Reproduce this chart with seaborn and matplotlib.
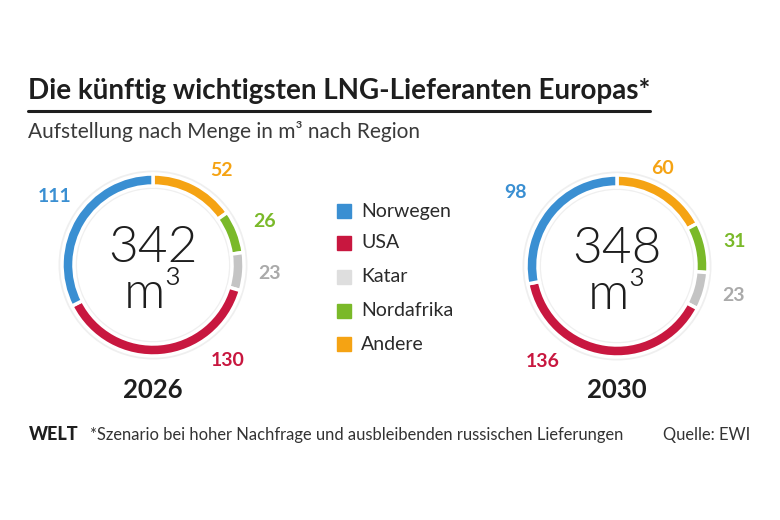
import matplotlib
matplotlib.use("Agg")
import matplotlib.pyplot as plt
from matplotlib.lines import Line2D
from matplotlib.patches import Rectangle
import numpy as np
import seaborn as sns

# data
regions = ["Norwegen", "USA", "Katar", "Nordafrika", "Andere"]
years = ["2026", "2030"]
values_2026 = [111, 130, 23, 26, 52]
values_2030 = [98, 136, 23, 31, 60]
totals = [342, 348]

# style
colors = ["#3a8fd2", "#c8173f", "#c4c4c4", "#7ab929", "#f5a313"]
label_colors = ["#3a8fd2", "#c8173f", "#aaaaaa", "#7ab929", "#f5a313"]
legend_colors = ["#3a8fd2", "#c8173f", "#dedede", "#7ab929", "#f5a313"]
# label anchors: clock degrees from 12 o'clock and radius (ring radius ~0.9)
label_angles = [[305, 142, 94, 69, 36], [306, 218, 104, 78, 25]]
label_radius = [[1.2, 1.21, 1.17, 1.2, 1.17], [1.25, 1.21, 1.2, 1.2, 1.08]]
centers = [(153, 265), (617, 266)]

W, H = 780, 520
sns.set_theme(style="white")
plt.rcParams['font.family'] = ['Lato', 'DejaVu Sans']
dark = "#1e1e1e"

fig = plt.figure(figsize=(W / 100, H / 100), dpi=100)
fig.patch.set_facecolor("white")


def fx(x):
    return x / W


def fy(y):
    return 1 - y / H


# header
fig.text(fx(28), fy(99), "Die künftig wichtigsten LNG-Lieferanten Europas*",
         fontsize=20, fontweight="bold", color=dark, ha="left", va="baseline")
fig.add_artist(Line2D([fx(28), fx(650)], [fy(111), fy(111)], color=dark, lw=2.2))
fig.text(fx(28), fy(131), "Aufstellung nach Menge in m³ nach Region",
         fontsize=15, color="#3a3a3a", ha="left", va="center")

all_values = [values_2026, values_2030]
for k, (vals, total, year) in enumerate(zip(all_values, totals, years)):
    cx, cy = centers[k]
    half = 140
    ax = fig.add_axes([fx(cx - half), fy(cy + half), 2 * half / W, 2 * half / H])
    ax.pie([1], radius=0.945, colors=["#efefef"], startangle=90,
           wedgeprops=dict(width=0.185, linewidth=0))
    ax.pie(vals[::-1], radius=0.91, colors=colors[::-1], startangle=90,
           counterclock=False, wedgeprops=dict(width=0.12, edgecolor="white", linewidth=2.5))
    ax.set_xlim(-1.4, 1.4)
    ax.set_ylim(-1.4, 1.4)
    ax.set_aspect("equal")
    ax.axis("off")
    for v, ang, r, c in zip(vals, label_angles[k], label_radius[k], label_colors):
        a = np.deg2rad(ang)
        ax.text(r * np.sin(a), r * np.cos(a), str(v), color=c, fontsize=14,
                fontweight="bold", ha="center", va="center", clip_on=False)
    ax.text(0, -0.06, f"{total}\nm³", fontsize=37, fontweight=300, color=dark,
            ha="center", va="center", multialignment="center", linespacing=1.0)
    fig.text(fx(cx), fy(390), year, fontsize=18.5, fontweight="bold", color=dark,
             ha="center", va="center")

# legend
legend_y = [211, 243, 277, 311, 344]
for name, c, y in zip(regions, legend_colors, legend_y):
    fig.add_artist(Rectangle((fx(337), fy(y + 7)), 14 / W, 14 / H, color=c,
                             transform=fig.transFigure))
    fig.text(fx(361), fy(y), name, fontsize=14, color="#2a2a2a", ha="left", va="center")

# footer
fig.text(fx(29), fy(435), "WELT", fontsize=13, fontweight="black", color=dark,
         ha="left", va="center")
fig.text(fx(90), fy(435), "*Szenario bei hoher Nachfrage und ausbleibenden russischen Lieferungen",
         fontsize=11.9, color="#333333", ha="left", va="center")
fig.text(fx(750), fy(435), "Quelle: EWI", fontsize=11.9, color="#333333",
         ha="right", va="center")

fig.savefig("out.png", dpi=100, facecolor="white")
